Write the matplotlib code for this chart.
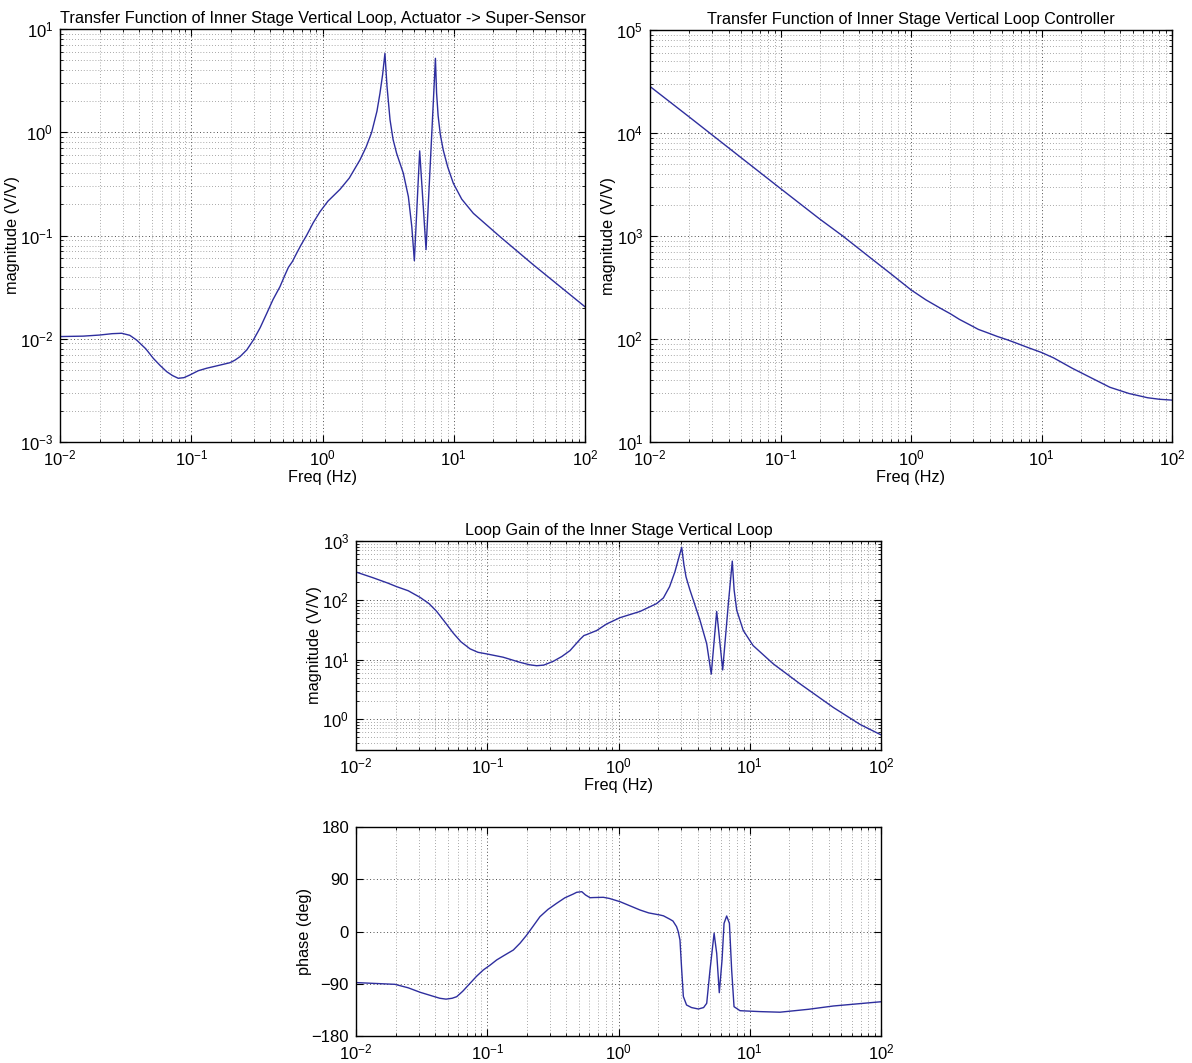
import numpy as np
import matplotlib
matplotlib.use("Agg")
import matplotlib.pyplot as plt
from matplotlib.ticker import LogLocator, FixedLocator, NullFormatter

plt.rcParams['font.family'] = ['Liberation Sans', 'DejaVu Sans']
plt.rcParams['mathtext.fontset'] = 'custom'
plt.rcParams['mathtext.rm'] = 'Liberation Sans'

# ---------------- data ----------------
# Plant: actuator -> super-sensor magnitude (V/V)
plant_f = [0.01, 0.015, 0.02, 0.025, 0.0295, 0.034, 0.0384, 0.045, 0.0514, 0.058,
           0.065, 0.072, 0.0796, 0.088, 0.0977, 0.113, 0.131, 0.16, 0.197, 0.215,
           0.235, 0.265, 0.297, 0.335, 0.376, 0.42, 0.474, 0.52, 0.55, 0.59,
           0.635, 0.69, 0.759, 0.85, 0.957, 1.1, 1.36, 1.6, 1.93, 2.15, 2.37,
           2.6, 2.74, 2.87, 2.99, 3.1, 3.27, 3.45, 3.67, 4.13, 4.51, 4.79, 5.01,
           5.5, 6.15, 6.59, 6.98, 7.25, 7.4, 7.6, 7.9, 8.32, 9.0, 9.93, 11.5,
           14.1, 22.5, 40.4, 100.0]
plant_m = [0.0105, 0.0106, 0.01086, 0.0112, 0.0113, 0.0108, 0.0097, 0.0080,
           0.00646, 0.0055, 0.0048, 0.0044, 0.00414, 0.0042, 0.00446, 0.0049,
           0.00518, 0.0055, 0.00586, 0.0062, 0.0067, 0.0078, 0.0097, 0.0128,
           0.0176, 0.024, 0.0319, 0.042, 0.0492, 0.056, 0.0673, 0.082, 0.101,
           0.133, 0.170, 0.215, 0.28, 0.36, 0.54, 0.72, 1.0, 1.6, 2.38, 3.6, 5.8,
           2.8, 1.32, 0.85, 0.625, 0.40, 0.238, 0.122, 0.057, 0.66, 0.073, 0.43,
           1.9, 5.2, 2.4, 1.45, 0.95, 0.67, 0.46, 0.32, 0.225, 0.164, 0.0975,
           0.052, 0.0204]

# Controller magnitude (V/V)
ctrl_f = [0.01, 0.02, 0.05, 0.1, 0.2, 0.3, 0.5, 0.7, 1.0, 1.3, 1.69, 2.0, 2.35,
          2.8, 3.28, 4.0, 4.57, 5.5, 6.37, 8.0, 10.0, 12.4, 17.2, 24.0, 33.4,
          46.7, 65.0, 80.0, 100.0]
ctrl_m = [28300, 14300, 5750, 2890, 1460, 1000, 600, 430, 300, 240, 198, 176,
          155, 138, 124, 113, 106, 98, 91.5, 82, 74, 65.5, 52, 42, 34, 29.6,
          26.9, 26.0, 25.5]

# Loop gain magnitude (V/V)
loop_f = [0.01, 0.0135, 0.0175, 0.0204, 0.025, 0.0308, 0.036, 0.0412, 0.048,
          0.0551, 0.063, 0.074, 0.085, 0.099, 0.132, 0.178, 0.21, 0.238, 0.27,
          0.319, 0.37, 0.427, 0.48, 0.509, 0.545, 0.573, 0.682, 0.813, 1.026,
          1.46, 1.95, 2.2, 2.45, 2.69, 2.85, 3.03, 3.15, 3.27, 3.5, 3.72, 4.18,
          4.70, 5.09, 5.60, 6.22, 6.87, 7.36, 7.6, 7.96, 8.93, 10.6, 15.1, 24.2,
          43.4, 69.2, 100.0]
loop_m = [300, 240, 195, 170, 145, 112, 88, 65, 42, 28, 20, 15.2, 13.3, 12.5,
          11.0, 9.0, 8.2, 7.9, 8.1, 9.4, 11.3, 14.2, 19, 22, 25.5, 26.5, 31, 40,
          51, 65, 88, 110, 170, 302, 480, 782, 400, 248, 150, 100, 46, 18.5, 5.7,
          65, 6.7, 88, 458, 150, 68, 31, 17.3, 8.5, 3.9, 1.56, 0.81, 0.54]

# Loop gain phase (deg)
phase_f = [0.01, 0.0198, 0.025, 0.0308, 0.038, 0.0435, 0.0485, 0.054, 0.0585,
           0.065, 0.074, 0.083, 0.0933, 0.105, 0.118, 0.135, 0.158, 0.178, 0.2,
           0.225, 0.252, 0.29, 0.338, 0.39, 0.453, 0.48, 0.525, 0.56, 0.607,
           0.65, 0.766, 0.85, 1.026, 1.2, 1.46, 1.7, 2.07, 2.2, 2.47, 2.6, 2.77,
           2.85, 2.94, 3.03, 3.12, 3.30, 3.6, 4.06, 4.45, 4.70, 4.98, 5.35, 5.60,
           5.86, 6.15, 6.37, 6.67, 7.0, 7.28, 7.59, 8.43, 12.0, 17.0, 28.0, 43.4,
           100.0]
phase_d = [-88, -91, -97, -104.7, -111, -115, -116.5, -115, -112.3, -103, -89.2,
           -77, -66.3, -58, -49, -41, -31.9, -20, -6, 10, 25.5, 38, 48.6, 58,
           64.6, 67.5, 68.6, 63, 58.2, 58.5, 58.9, 57, 51.4, 45, 37, 32, 28.4,
           27, 21, 18, 8.3, 0, -14.6, -66, -112, -126.6, -131, -133.5, -131,
           -123.7, -66.3, -3.1, -37.6, -105.4, -49, 14, 26.7, 14, -66.3, -129.5,
           -136.4, -138, -139, -134, -128.3, -121]

# ---------------- figure ----------------
W, H = 1192, 1063
fig = plt.figure(figsize=(W / 100, H / 100), dpi=100)
LINE = '#2e2e9e'
FS = 11.7
TKS = 12
TFS = 11.7
DOT = (0, (1, 2.5))


def px_axes(l, t, r, b):
    return fig.add_axes([l / W, (H - b) / H, (r - l) / W, (b - t) / H])


def style(ax, ylog=True):
    ax.set_xscale('log')
    ax.set_xlim(1e-2, 1e2)
    ax.xaxis.set_major_locator(LogLocator(base=10, numticks=10))
    ax.xaxis.set_minor_locator(LogLocator(base=10, subs=np.arange(2, 10), numticks=10))
    ax.xaxis.set_minor_formatter(NullFormatter())
    if ylog:
        ax.set_yscale('log')
        ax.yaxis.set_major_locator(LogLocator(base=10, numticks=10))
        ax.yaxis.set_minor_locator(LogLocator(base=10, subs=np.arange(2, 10), numticks=10))
        ax.yaxis.set_minor_formatter(NullFormatter())
    ax.tick_params(which='both', direction='in', top=True, right=True,
                   labelsize=TKS, pad=5)
    ax.tick_params(which='major', length=5, width=0.8)
    ax.tick_params(which='minor', length=2.5, width=0.6)
    ax.grid(True, which='major', linestyle=DOT, color='0.3', linewidth=0.7)
    if ylog:
        ax.grid(True, which='minor', linestyle=DOT, color='0.55', linewidth=0.6)
    else:
        ax.grid(True, which='minor', axis='x', linestyle=DOT, color='0.55', linewidth=0.6)
    for s in ax.spines.values():
        s.set_linewidth(1.0)
        s.set_color('black')
    ax.set_axisbelow(True)


# top-left: plant
ax1 = px_axes(60, 29, 585, 442)
style(ax1)
ax1.plot(plant_f, plant_m, color=LINE, linewidth=1.0)
ax1.set_ylim(1e-3, 1e1)
ax1.set_title('Transfer Function of Inner Stage Vertical Loop, Actuator -> Super-Sensor',
              fontsize=TFS, pad=4)
ax1.set_xlabel('Freq (Hz)', fontsize=FS, labelpad=1)
ax1.set_ylabel('magnitude (V/V)', fontsize=FS, labelpad=0)

# top-right: controller
ax2 = px_axes(650, 30, 1172, 442)
style(ax2)
ax2.plot(ctrl_f, ctrl_m, color=LINE, linewidth=1.0)
ax2.set_ylim(1e1, 1e5)
ax2.set_title('Transfer Function of Inner Stage Vertical Loop Controller',
              fontsize=TFS, pad=4)
ax2.set_xlabel('Freq (Hz)', fontsize=FS, labelpad=1)
ax2.set_ylabel('magnitude (V/V)', fontsize=FS, labelpad=0)

# middle: loop gain magnitude
ax3 = px_axes(356, 541, 881, 750)
style(ax3)
ax3.plot(loop_f, loop_m, color=LINE, linewidth=1.0)
ax3.set_ylim(0.3, 1e3)
ax3.set_title('Loop Gain of the Inner Stage Vertical Loop', fontsize=TFS, pad=4)
ax3.set_xlabel('Freq (Hz)', fontsize=FS, labelpad=1)
ax3.set_ylabel('magnitude (V/V)', fontsize=FS, labelpad=0)

# bottom: loop gain phase
ax4 = px_axes(356, 827, 881, 1036)
style(ax4, ylog=False)
ax4.plot(phase_f, phase_d, color=LINE, linewidth=1.0)
ax4.set_ylim(-180, 180)
ax4.yaxis.set_major_locator(FixedLocator([-180, -90, 0, 90, 180]))
ax4.set_ylabel('phase (deg)', fontsize=FS, labelpad=0)

fig.savefig('out.png', dpi=100)
